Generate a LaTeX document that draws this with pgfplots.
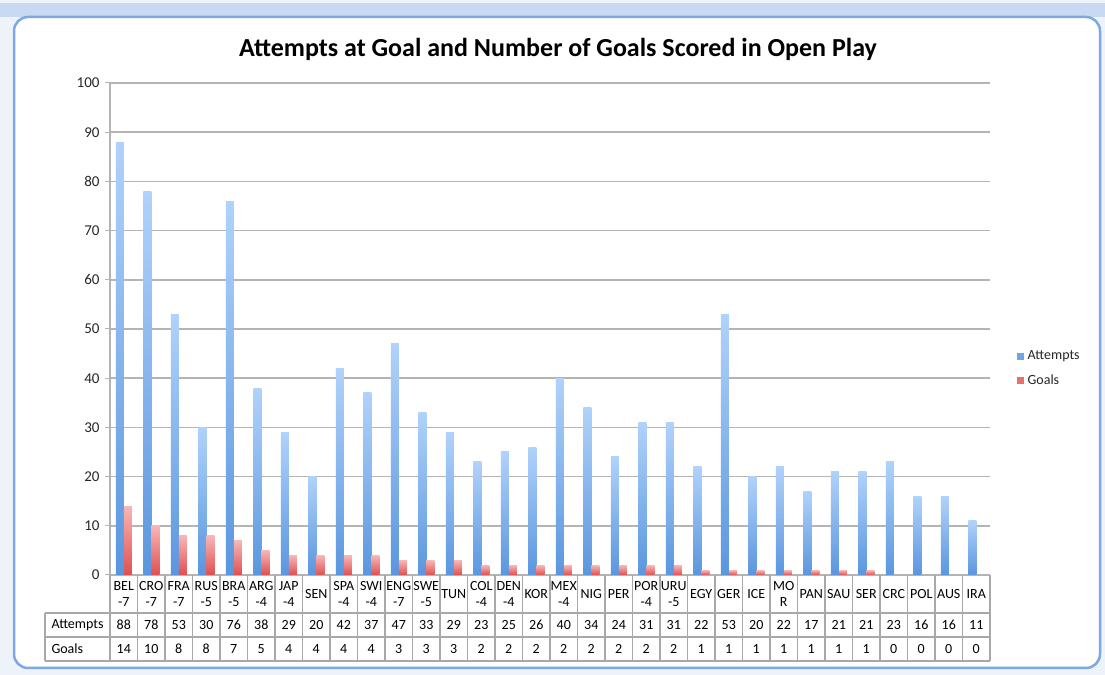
\documentclass[border=0pt]{standalone}
\usepackage{fontspec}
\setmainfont{Carlito}
\usepackage{pgfplots}
\pgfplotsset{compat=1.18}
\usepackage{pgfplotstable}

\definecolor{bgblue}{HTML}{EEF3FA}
\definecolor{bandblue}{HTML}{C8DAF2}
\definecolor{frameblue}{HTML}{7EA7E3}
\definecolor{attTop}{HTML}{B0D2FB}
\definecolor{attBot}{HTML}{5A96DE}
\definecolor{golTop}{HTML}{F8B6B6}
\definecolor{golBot}{HTML}{DF4F4F}
\definecolor{attLeg}{HTML}{6FA6E8}
\definecolor{golLeg}{HTML}{E87070}
\definecolor{gridgray}{HTML}{B4B4B4}
\definecolor{tablegray}{HTML}{A8A8A8}

\pgfplotstableread{
x att goals
0 88 14
1 78 10
2 53 8
3 30 8
4 76 7
5 38 5
6 29 4
7 20 4
8 42 4
9 37 4
10 47 3
11 33 3
12 29 3
13 23 2
14 25 2
15 26 2
16 40 2
17 34 2
18 24 2
19 31 2
20 31 2
21 22 1
22 53 1
23 20 1
24 22 1
25 17 1
26 21 1
27 21 1
28 23 0
29 16 0
30 16 0
31 11 0
}\data

\begin{document}
\begin{tikzpicture}[x=1bp,y=1bp]
% background and frame
\fill[bgblue] (0,0) rectangle (1105,675);
\fill[bandblue] (0,658) rectangle (1105,672);
\draw[frameblue, line width=2.5bp, fill=white, rounded corners=14bp] (14,7) rectangle (1100,658);

% title
\node[font=\fontsize{26bp}{30bp}\selectfont\bfseries] at (558,626) {Attempts at Goal and Number of Goals Scored in Open Play};

\begin{axis}[
  at={(110bp,100bp)}, anchor=south west,
  scale only axis, width=880bp, height=492bp,
  ymin=0, ymax=100, xmin=-0.5, xmax=31.5,
  ytick={0,10,...,100},
  xtick=\empty,
  axis x line*=bottom, axis y line*=left,
  axis line style={gridgray, line width=1.2bp},
  ymajorgrids, grid style={gridgray, line width=1.6bp},
  tick align=outside, major tick length=5bp,
  ytick style={gridgray, line width=1bp},
  /pgf/number format/assume math mode=true,
  yticklabel style={font=\fontsize{15bp}{17bp}\selectfont, text=black!85, xshift=-2bp},
  ybar=0pt, bar width=8bp,
  clip=false,
  legend style={at={(1.03,0.42)}, anchor=west, draw=none, fill=none,
    font=\fontsize{14bp}{16bp}\selectfont, row sep=13bp, inner sep=0pt,
    nodes={inner sep=0pt, text=black!85},
    /tikz/every odd column/.append style={column sep=4bp}},
  legend cell align=left,
  legend image code/.code={\fill[#1, draw=none] (0bp,-3.5bp) rectangle (7bp,3.5bp);},
]
\pgfplotsinvokeforeach{0,...,31}{
  \addplot[forget plot, draw=none, top color=attTop, bottom color=attBot, bar shift=-4bp,
    restrict x to domain=#1:#1] table[x=x,y=att] {\data};
  \addplot[forget plot, draw=none, top color=golTop, bottom color=golBot, bar shift=4bp,
    restrict x to domain=#1:#1, restrict y to domain=0.5:200] table[x=x,y=goals] {\data};
}
\addlegendimage{fill=attLeg, draw=none}
\addlegendentry{Attempts}
\addlegendimage{fill=golLeg, draw=none}
\addlegendentry{Goals}
\end{axis}

% data table
\begin{scope}[tablegray, line width=1.2bp]
\foreach \k in {0,...,32} {\draw (110+27.5*\k,100) -- (110+27.5*\k,14);}
\draw (45,62) -- (990,62);
\draw (45,38) -- (990,38);
\draw (45,14) -- (990,14);
\draw (45,62) -- (45,14);
\end{scope}
\node[anchor=west, font=\fontsize{14bp}{16bp}\selectfont] at (48,50) {Attempts};
\node[anchor=west, font=\fontsize{14bp}{16bp}\selectfont] at (48,26) {Goals};
\foreach \n/\a/\g [count=\i from 0] in {BEL\\-7/88/14, CRO\\-7/78/10, FRA\\-7/53/8, RUS\\-5/30/8, BRA\\-5/76/7, ARG\\-4/38/5, JAP\\-4/29/4, SEN/20/4, SPA\\-4/42/4, SWI\\-4/37/4, ENG\\-7/47/3, SWE\\-5/33/3, TUN/29/3, COL\\-4/23/2, DEN\\-4/25/2, KOR/26/2, MEX\\-4/40/2, NIG/34/2, PER/24/2, POR\\-4/31/2, URU\\-5/31/2, EGY/22/1, GER/53/1, ICE/20/1, MO\\R/22/1, PAN/17/1, SAU/21/1, SER/21/1, CRC/23/0, POL/16/0, AUS/16/0, IRA/11/0} {
  \node[align=center, inner sep=0pt, font=\fontsize{14bp}{16bp}\selectfont] at (123.75+27.5*\i,81) {\n};
  \node[font=\fontsize{14bp}{16bp}\selectfont] at (123.75+27.5*\i,50) {\a};
  \node[font=\fontsize{14bp}{16bp}\selectfont] at (123.75+27.5*\i,26) {\g};
}
\end{tikzpicture}
\end{document}
